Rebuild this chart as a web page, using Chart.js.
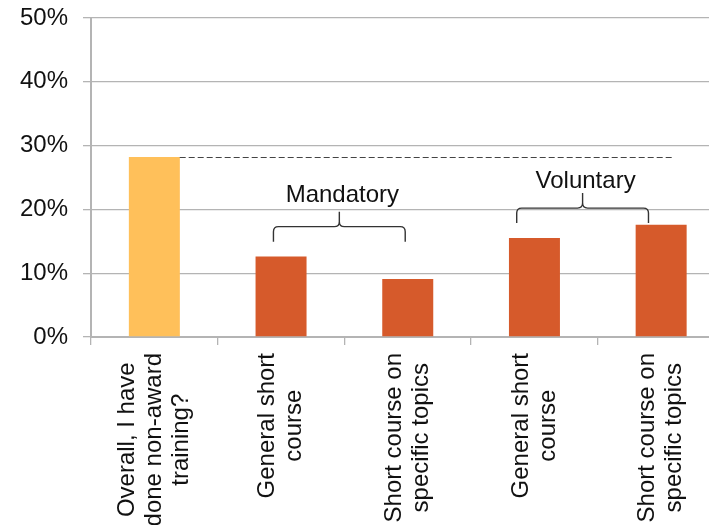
<!DOCTYPE html>
<html>
<head>
<meta charset="utf-8">
<script src="https://cdn.jsdelivr.net/npm/chart.js@4/dist/chart.umd.min.js"></script>
<style>
  html, body { margin: 0; padding: 0; overflow: hidden; background: #fff; }
</style>
</head>
<body>
<canvas id="trainingChart" width="730" height="525"></canvas>
<script>
// values
const categories = [
  ['Overall, I have', 'done non-award', 'training?'],
  ['General short', 'course'],
  ['Short course on', 'specific topics'],
  ['General short', 'course'],
  ['Short course on', 'specific topics']
]
const percentValues = [28.2, 12.6, 9.1, 15.5, 17.6]
const yTickValues = [0, 10, 20, 30, 40, 50]

// group braces (in category index / percent units)
const groupNames = ['Mandatory', 'Voluntary']
const groupFrom = [0.94, 2.86]
const groupTo = [1.98, 3.9]
const groupLevel = [17.3, 20.2]
const groupTextLevel = [21.1, 23.35]

// dashed reference line at the overall value
const refLineFrom = 0.2
const refLineTo = 4.1

const FONT = '"Liberation Sans", Arial, sans-serif'
const overallColor = '#FFC05A'
const subColor = '#D65A2B'
const gridColor = '#b4b4b4'

// draws the rotated, centered category labels plus braces and dashed line
const annotationsPlugin = {
  id: 'annotations',
  afterDraw(chart) {
    const ctx = chart.ctx
    const x = chart.scales.x
    const y = chart.scales.y
    ctx.save()

    // category labels, lines centered inside each block
    ctx.font = '24px ' + FONT
    ctx.fillStyle = '#111'
    ctx.textAlign = 'center'
    ctx.textBaseline = 'middle'
    const lineHeight = 27
    const labelTop = chart.chartArea.bottom + 16
    categories.forEach((lines, i) => {
      const widest = Math.max(...lines.map(l => ctx.measureText(l).width))
      const px = x.getPixelForTick(i)
      ctx.save()
      ctx.translate(px, labelTop + widest / 2)
      ctx.rotate(-Math.PI / 2)
      lines.forEach((line, j) => {
        ctx.fillText(line, 0, (j - (lines.length - 1) / 2) * lineHeight)
      })
      ctx.restore()
    })

    // dashed line level with the overall bar
    const step = x.getPixelForTick(1) - x.getPixelForTick(0)
    const pxAt = v => x.getPixelForTick(0) + v * step
    ctx.strokeStyle = '#444'
    ctx.lineWidth = 1.2
    ctx.setLineDash([6, 3])
    ctx.beginPath()
    const refY = Math.round(y.getPixelForValue(percentValues[0])) + 0.5
    ctx.moveTo(pxAt(refLineFrom), refY)
    ctx.lineTo(pxAt(refLineTo), refY)
    ctx.stroke()
    ctx.setLineDash([])

    // curly braces with their labels
    ctx.strokeStyle = '#333'
    ctx.lineWidth = 1.4
    const r = 5
    const depth = 15
    groupNames.forEach((name, i) => {
      const x0 = pxAt(groupFrom[i])
      const x1 = pxAt(groupTo[i])
      const xc = (x0 + x1) / 2
      const ym = y.getPixelForValue(groupLevel[i])
      ctx.beginPath()
      ctx.moveTo(x0, ym + depth)
      ctx.lineTo(x0, ym + r)
      ctx.quadraticCurveTo(x0, ym, x0 + r, ym)
      ctx.lineTo(xc - r, ym)
      ctx.quadraticCurveTo(xc, ym, xc, ym - r)
      ctx.lineTo(xc, ym - depth)
      ctx.moveTo(xc, ym - r)
      ctx.quadraticCurveTo(xc, ym, xc + r, ym)
      ctx.lineTo(x1 - r, ym)
      ctx.quadraticCurveTo(x1, ym, x1, ym + r)
      ctx.lineTo(x1, ym + depth)
      ctx.stroke()

      ctx.font = '24px ' + FONT
      ctx.fillStyle = '#111'
      ctx.textAlign = 'center'
      ctx.textBaseline = 'alphabetic'
      ctx.fillText(name, xc + 3, y.getPixelForValue(groupTextLevel[i]))
    })

    ctx.restore()
  }
}

const ctx = document.getElementById('trainingChart')
const chart = new Chart(ctx, {
  type: 'bar',
  data: {
    labels: categories,
    datasets: [{
      data: percentValues,
      backgroundColor: percentValues.map((v, i) => i === 0 ? overallColor : subColor),
      barPercentage: 0.4025,
      categoryPercentage: 1
    }]
  },
  options: {
    responsive: false,
    animation: false,
    layout: { padding: { top: 18, right: 5.5, left: 0, bottom: 0 } },
    plugins: {
      legend: { display: false },
      tooltip: { enabled: false }
    },
    scales: {
      x: {
        grid: {
          offset: true,
          drawOnChartArea: false,
          drawTicks: true,
          tickLength: 8,
          color: gridColor,
          lineWidth: 1.3
        },
        border: { color: gridColor, width: 2 },
        ticks: { display: false },
        afterFit: scale => { scale.height = 188 }
      },
      y: {
        min: 0,
        max: 50,
        afterBuildTicks: scale => {
          scale.ticks = yTickValues.map(v => ({ value: v }))
        },
        grid: { color: gridColor, lineWidth: 1.3, tickLength: 8 },
        border: { color: gridColor, width: 2 },
        ticks: {
          padding: 15,
          color: '#111',
          font: { family: FONT, size: 24 },
          callback: v => v + '%'
        },
        // tick padding would otherwise push the plot top down
        afterFit: scale => {
          scale.width = 91
          scale.paddingTop = 0
          scale.paddingBottom = 0
        }
      }
    }
  },
  plugins: [annotationsPlugin]
})
</script>
</body>
</html>
